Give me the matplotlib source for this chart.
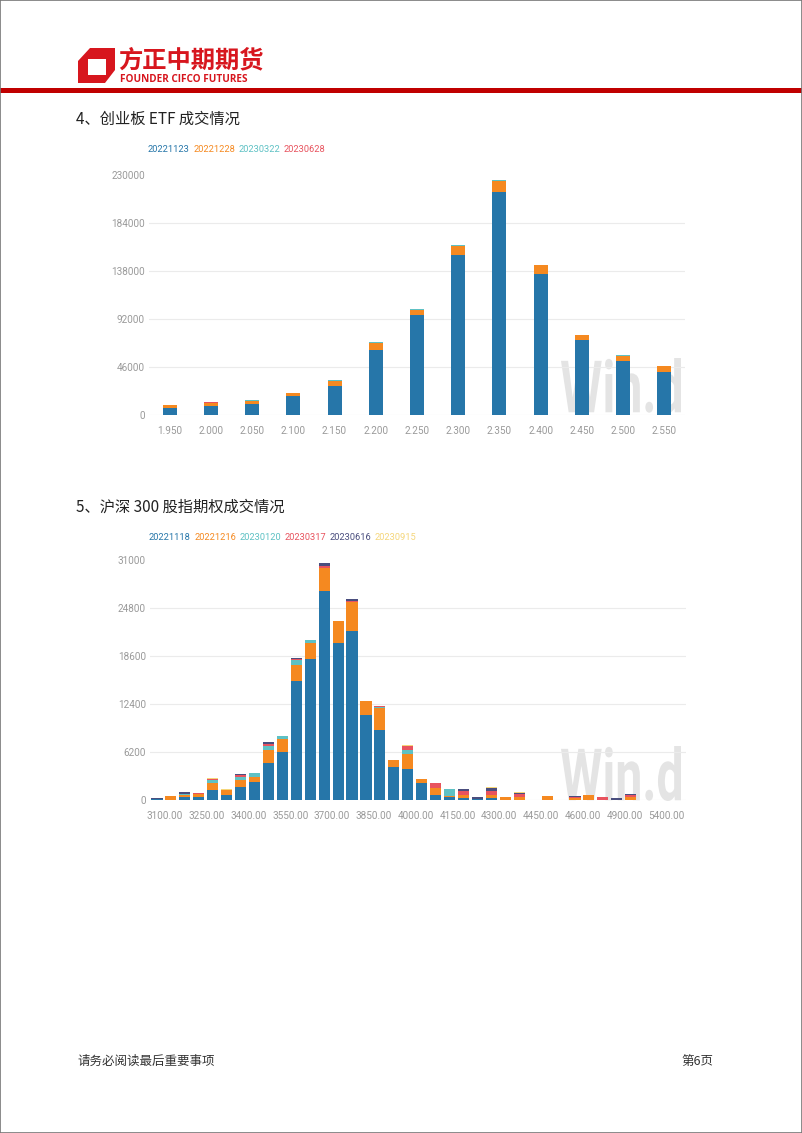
import numpy as np
import matplotlib
matplotlib.use("Agg")
import matplotlib.pyplot as plt
from matplotlib.patches import Rectangle, Polygon, PathPatch
from matplotlib.textpath import TextPath
from matplotlib.font_manager import FontProperties
from matplotlib.transforms import Affine2D, ScaledTranslation

# 4、创业板ETF成交情况
etf_strikes = ["1.950", "2.000", "2.050", "2.100", "2.150", "2.200", "2.250",
               "2.300", "2.350", "2.400", "2.450", "2.500", "2.550"]
etf_dates = ["20221123", "20221228", "20230322", "20230628"]
etf_1123 = [6500, 8700, 10900, 18000, 27900, 62000, 96000, 153800, 214000, 135500, 72200, 51700, 41400]
etf_1228 = [2800, 2500, 2300, 3000, 5000, 6700, 4800, 7700, 10400, 8300, 4500, 5100, 5100]
etf_0322 = [500, 0, 1200, 500, 500, 800, 1000, 1500, 900, 300, 300, 1000, 700]
etf_0628 = [0, 1000, 0, 0, 0, 0, 0, 0, 0, 0, 0, 0, 0]

# 5、沪深300股指期权成交情况
idx_strikes = ["3100.00", "3150.00", "3200.00", "3250.00", "3300.00", "3350.00", "3400.00",
               "3450.00", "3500.00", "3550.00", "3600.00", "3650.00", "3700.00", "3750.00",
               "3800.00", "3850.00", "3900.00", "3950.00", "4000.00", "4050.00", "4100.00",
               "4150.00", "4200.00", "4250.00", "4300.00", "4350.00", "4400.00", "4450.00",
               "4500.00", "4550.00", "4600.00", "4700.00", "4800.00", "4900.00", "5000.00",
               "5200.00", "5400.00"]
idx_dates = ["20221118", "20221216", "20230120", "20230317", "20230616", "20230915"]
idx_1118 = [80, 0, 390, 430, 1290, 600, 1670, 2270, 4720, 6140, 15320, 18230, 27030, 20330,
            21880, 10940, 9100, 4290, 3990, 2140, 600, 340, 215, 150, 215, 0, 0, 0,
            0, 0, 0, 0, 0, 0, 0, 0, 0]
idx_1216 = [0, 560, 250, 390, 860, 730, 900, 730, 1800, 1800, 2140, 2060, 3000, 2750,
            3640, 1800, 2740, 860, 2010, 520, 900, 220, 425, 0, 425, 340, 430, 0,
            510, 0, 200, 640, 0, 0, 430, 0, 0]
idx_0120 = [0, 0, 180, 0, 420, 0, 350, 520, 430, 300, 560, 430, 0, 0,
            100, 0, 170, 0, 430, 80, 0, 810, 0, 0, 0, 0, 0, 0,
            0, 0, 0, 0, 0, 0, 0, 0, 0]
idx_0317 = [40, 0, 0, 80, 160, 0, 250, 0, 250, 0, 180, 0, 210, 0,
            120, 0, 130, 0, 520, 0, 640, 0, 470, 0, 470, 0, 340, 0,
            0, 0, 200, 0, 340, 0, 220, 0, 0]
idx_0616 = [100, 0, 170, 0, 0, 0, 130, 0, 260, 0, 160, 0, 350, 0,
            170, 0, 0, 0, 0, 0, 0, 0, 260, 190, 430, 0, 170, 0,
            0, 0, 120, 0, 0, 215, 170, 0, 0]
idx_0915 = [0, 0, 0, 0, 100, 130, 0, 0, 0, 0, 0, 0, 0, 0,
            0, 0, 0, 0, 170, 0, 0, 0, 0, 0, 130, 0, 130, 0,
            0, 0, 0, 0, 0, 0, 0, 0, 0]

colors = ["#2676a9", "#f58920", "#5ec1c4", "#e8535e", "#4a4e7e", "#f5d67a"]

plt.rcParams['font.family'] = ['Roboto', 'DejaVu Sans']
cjk = ['Noto Sans CJK SC', 'DejaVu Sans']

W, H = 802, 1133
fig = plt.figure(figsize=(W / 100, H / 100), dpi=100)


def P(x, y):
    return (x / W, 1 - y / H)


def box(left, top, right, bottom):
    return [left / W, 1 - bottom / H, (right - left) / W, (bottom - top) / H]


def watermark(x0, y0, w, h):
    tp = TextPath((0, 0), "Win.d", size=1, prop=FontProperties(family='Roboto', weight='bold'))
    ext = tp.get_extents()
    tr = (Affine2D().translate(-ext.x0, -ext.y0)
          .scale(w / ext.width / W, h / ext.height / H)
          .translate(x0 / W, 1 - (y0 + h) / H) + fig.transFigure)
    fig.add_artist(PathPatch(tp, transform=tr, facecolor='#e4e4e4', edgecolor='none', zorder=-1))


def stacked_chart(ax, cats, series, dates, step, ymax, width, leg_y):
    x = np.arange(len(cats))
    bottom = np.zeros(len(cats))
    handles = []
    for vals, c in zip(series, colors):
        vals = np.asarray(vals, float)
        handles.append(ax.bar(x, vals, width, bottom=bottom, color=c, linewidth=0, zorder=2))
        bottom += vals
    ax.set_facecolor('none')
    for s in ax.spines.values():
        s.set_visible(False)
    ax.set_ylim(0, ymax)
    yt = np.arange(0, ymax + 1, step)
    ax.set_yticks(yt, [str(int(v)) for v in yt])
    for v in yt[:-1]:
        ax.axhline(v, color='#ebebeb', lw=0.8, zorder=0)
    ax.tick_params(length=0, colors='#9a9a9a', labelsize=7.2)
    ax.tick_params(axis='y', pad=3)
    ax.tick_params(axis='x', pad=8)
    leg = ax.legend(handles, dates, loc='center left', bbox_to_anchor=leg_y,
                    ncol=len(dates), frameon=False, handlelength=0, handletextpad=0,
                    columnspacing=0.35, borderpad=0, borderaxespad=0, fontsize=6.7)
    for h in leg.legend_handles:
        h.set_visible(False)
    for t, c in zip(leg.get_texts(), colors):
        t.set_color(c)
    return x


# header
fig.add_artist(Polygon([P(78, 83), P(78, 61), P(90, 48), P(115, 48), P(115, 70), P(105, 83)],
                       closed=True, transform=fig.transFigure, facecolor='#d7161e', edgecolor='none'))
fig.add_artist(Rectangle(P(88, 75), 18 / W, 16 / H, transform=fig.transFigure,
                         facecolor='white', edgecolor='none'))
fig.text(*P(118, 60), "方正中期期货", family=cjk, fontsize=17.5, fontweight='bold',
         color='#d7161e', va='center', ha='left')
fig.text(*P(120, 79), "FOUNDER CIFCO FUTURES", family=['Open Sans', 'DejaVu Sans'],
         fontsize=7.2, fontweight='bold', color='#d7161e', va='center', ha='left')
fig.add_artist(Rectangle(P(0, 93), 1, 5 / H, transform=fig.transFigure,
                         facecolor='#c00000', edgecolor='none'))

# chart 4
fig.text(*P(76, 119), "4、创业板 ETF 成交情况", family=cjk, fontsize=11, color='#222222',
         va='center', ha='left')
ax1 = fig.add_axes(box(149, 175, 685, 415))
watermark(561, 358, 120, 55)
x1 = stacked_chart(ax1, etf_strikes, [etf_1123, etf_1228, etf_0322, etf_0628], etf_dates,
                   46000, 230000, 0.34, (-1 / 536, 1 + 25 / 240))
ax1.set_xlim(-0.5, len(etf_strikes) - 0.5)
ax1.set_xticks(x1, etf_strikes)

# chart 5
fig.text(*P(76, 507), "5、沪深 300 股指期权成交情况", family=cjk, fontsize=11, color='#222222',
         va='center', ha='left')
ax2 = fig.add_axes(box(150, 560, 686, 800))
watermark(561, 746, 120, 55)
x2 = stacked_chart(ax2, idx_strikes, [idx_1118, idx_1216, idx_0120, idx_0317, idx_0616, idx_0915],
                   idx_dates, 6200, 31000, 0.8, (-1 / 536, 1 + 23 / 240))
ax2.set_xlim(-0.5, len(idx_strikes) + 0.97)
ax2.set_xticks(x2[::3], idx_strikes[::3])
shift = ScaledTranslation(8 / 100, 0, fig.dpi_scale_trans)
for lab in ax2.get_xticklabels():
    lab.set_transform(lab.get_transform() + shift)

# footer
fig.text(*P(78, 1061), "请务必阅读最后重要事项", family=cjk, fontsize=9, color='#333333',
         va='center', ha='left')
fig.text(*P(713, 1061), "第6页", family=cjk, fontsize=9, color='#333333', va='center', ha='right')

fig.add_artist(Rectangle((0, 0), 1, 1, transform=fig.transFigure, fill=False,
                         edgecolor='#777777', lw=1.2))

fig.savefig("out.png", dpi=100)
